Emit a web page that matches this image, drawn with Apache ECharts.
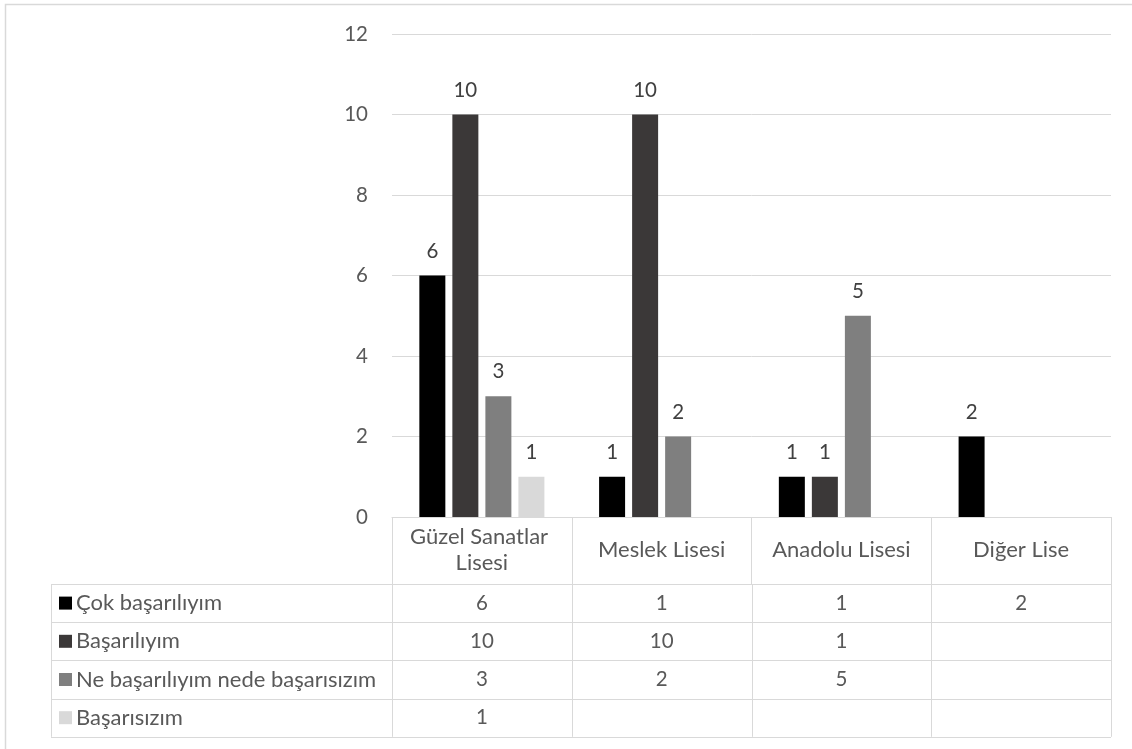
<!DOCTYPE html>
<html>
<head>
<meta charset="utf-8">
<script src="https://cdn.jsdelivr.net/npm/echarts@6/dist/echarts.min.js"></script>
<style>
html,body{margin:0;padding:0;background:#fff;}
#chart{width:1132px;height:749px;}
</style>
</head>
<body>
<div id="chart"></div>
<script>
var categories = ['Güzel Sanatlar Lisesi', 'Meslek Lisesi', 'Anadolu Lisesi', 'Diğer Lise'];
var seriesNames = ['Çok başarılıyım', 'Başarılıyım', 'Ne başarılıyım nede başarısızım', 'Başarısızım'];
var cokBasariliyim = [6, 1, 1, 2];
var basariliyim = [10, 10, 1, null];
var neNede = [3, 2, 5, null];
var basarisizim = [1, null, null, null];
var yTicks = [0, 2, 4, 6, 8, 10, 12];
var colors = ['#000000', '#3b3838', '#7f7f7f', '#d9d9d9'];
var seriesValues = [cokBasariliyim, basariliyim, neNede, basarisizim];

var FONT = 'Lato';
var FS = 20.5;    // digits
var FT = 22;      // words
var TXT = '#595959';
var LINE = '#d9d9d9';

var chart = echarts.init(document.getElementById('chart'));

var series = seriesNames.map(function (name, i) {
  return {
    name: name,
    type: 'bar',
    data: seriesValues[i],
    barWidth: 26,
    barGap: '27%',
    itemStyle: { color: colors[i] },
    label: {
      show: true,
      position: 'top',
      distance: 14,
      color: '#404040',
      fontFamily: FONT,
      fontSize: FS
    },
    emphasis: { disabled: true }
  };
});

chart.setOption({
  animation: false,
  backgroundColor: '#fff',
  grid: { left: 392, right: 21, top: 34, bottom: 232, containLabel: false },
  xAxis: {
    type: 'category',
    data: categories,
    axisLine: { show: true, lineStyle: { color: LINE, width: 1 } },
    axisTick: { show: true, length: 67, lineStyle: { color: LINE, width: 1 } },
    axisLabel: {
      interval: 0,
      margin: 33,
      verticalAlign: 'middle',
      width: 165,
      overflow: 'break',
      lineHeight: 26,
      color: TXT,
      fontFamily: FONT,
      fontSize: FT
    }
  },
  yAxis: {
    type: 'value',
    min: 0,
    max: 12,
    interval: 2,
    axisLine: { show: false },
    axisTick: { show: false },
    splitLine: { lineStyle: { color: LINE, width: 1 } },
    axisLabel: {
      margin: 24,
      color: TXT,
      fontFamily: FONT,
      fontSize: FS,
      formatter: function (v) { return yTicks.indexOf(v) >= 0 ? String(v) : ''; }
    }
  },
  series: series
});

// Data table below the axis, aligned to the category axis
function drawTable() {
  var c0 = chart.convertToPixel({ xAxisIndex: 0 }, 0);
  var c1 = chart.convertToPixel({ xAxisIndex: 0 }, 1);
  var colW = c1 - c0;
  var x0 = c0 - colW / 2;
  var xEnd = x0 + colW * categories.length;
  var yAxisPix = chart.convertToPixel({ yAxisIndex: 0 }, 0);
  var headerBottom = yAxisPix + 67;
  var rowH = 38.2;
  var tableLeft = 51;
  var els = [];
  var ls = { stroke: LINE, lineWidth: 1 };

  // outer border
  els.push({ type: 'rect', shape: { x: 5.5, y: 4.5, width: 1200, height: 800 }, style: { fill: null, stroke: LINE, lineWidth: 1.5 }, silent: true });

  var nRows = seriesNames.length;
  var tableBottom = headerBottom + rowH * nRows;
  for (var r = 0; r <= nRows; r++) {
    var y = Math.round(headerBottom + rowH * r) + 0.5;
    els.push({ type: 'line', shape: { x1: tableLeft, y1: y, x2: xEnd, y2: y }, style: ls, silent: true });
  }
  els.push({ type: 'line', shape: { x1: tableLeft + 0.5, y1: headerBottom, x2: tableLeft + 0.5, y2: tableBottom }, style: ls, silent: true });
  for (var k = 0; k <= categories.length; k++) {
    var x = Math.round(x0 + colW * k) + 0.5;
    els.push({ type: 'line', shape: { x1: x, y1: headerBottom, x2: x, y2: tableBottom }, style: ls, silent: true });
  }
  for (var s = 0; s < nRows; s++) {
    var cy = headerBottom + rowH * s + rowH / 2;
    els.push({ type: 'rect', shape: { x: 59, y: cy - 6.5, width: 13, height: 13 }, style: { fill: colors[s] }, silent: true });
    els.push({ type: 'text', x: 76, y: cy, style: { text: seriesNames[s], fill: TXT, font: FT + 'px ' + FONT, verticalAlign: 'middle', align: 'left' }, silent: true });
    for (var i = 0; i < categories.length; i++) {
      var v = seriesValues[s][i];
      if (v === null || v === undefined) continue;
      var cx = chart.convertToPixel({ xAxisIndex: 0 }, i);
      els.push({ type: 'text', x: cx, y: cy, style: { text: String(v), fill: TXT, font: FS + 'px ' + FONT, verticalAlign: 'middle', align: 'center' }, silent: true });
    }
  }
  chart.setOption({ graphic: { elements: els } });
}
drawTable();
</script>
</body>
</html>
